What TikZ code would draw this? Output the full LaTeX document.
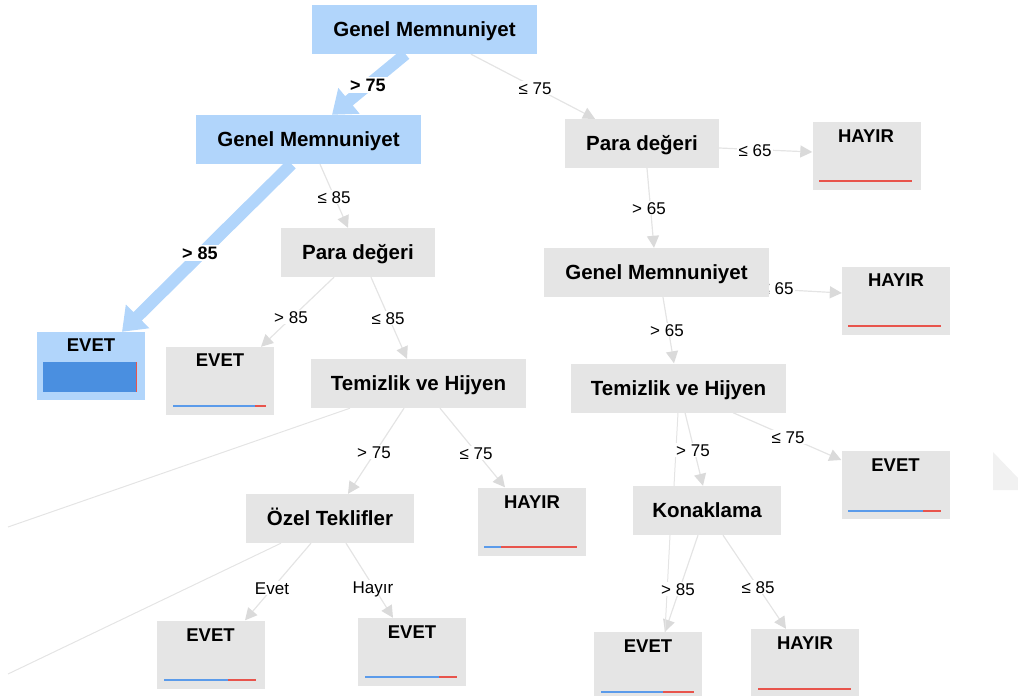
\documentclass[tikz,border=0pt]{standalone}
\usepackage{fontspec}
\setmainfont{Liberation Sans}
\usetikzlibrary{arrows.meta,calc,backgrounds}

\definecolor{boxgray}{HTML}{E5E5E5}
\definecolor{selblue}{HTML}{B1D5FB}
\definecolor{deepblue}{HTML}{4A8FE0}
\definecolor{barblue}{HTML}{5B9BEA}
\definecolor{barred}{HTML}{E8544C}
\definecolor{edgegray}{HTML}{E4E4E4}
\definecolor{tipgray}{HTML}{DADADA}
\definecolor{ghost}{HTML}{F1F1F1}

\begin{document}
\begin{tikzpicture}[x=1pt,y=-1pt,
  split/.style={rectangle, fill=boxgray, minimum width=#1, minimum height=49, inner sep=0pt,
    font=\bfseries\fontsize{20.5}{24}\selectfont, text height=14.7pt, text depth=0pt},
  split/.default=154,
  picked/.style={fill=selblue},
  leaf/.style={rectangle, fill=boxgray, minimum width=108, minimum height=68, inner sep=0pt},
  leaftitle/.style={inner sep=0pt, font=\bfseries\fontsize{18.5}{22}\selectfont,
    text height=13.2pt, text depth=0pt},
  bar/.style={line width=2.6pt},
  link/.style={draw=edgegray, line width=1.2pt, -{Triangle[length=12pt,width=12pt,color=tipgray]}},
  hotlink/.style={draw=selblue, line width=12pt, -{Triangle[length=22pt,width=32pt]}},
  faint/.style={draw=edgegray, line width=1pt},
  lbl/.style={fill=white, inner sep=1.2pt, font=\fontsize{17}{20}\selectfont,
    text height=12.2pt, text depth=0pt},
  hotlbl/.style={lbl, font=\bfseries\fontsize{18}{21}\selectfont, text height=12.9pt}
]
\path[use as bounding box] (0,0) rectangle (1018,696);

% soft shape at the right border
\fill[ghost] (993,452) -- (1018,478) -- (1018,490) -- (993,490) -- cycle;

% decision nodes
\node[split=225, picked] (root) at (424.5,29.5) {Genel Memnuniyet};
\node[split=225, picked] (gm2) at (308.5,139.5) {Genel Memnuniyet};
\node[split=154] (paraL) at (358,252.5) {Para değeri};
\node[split=215] (temL) at (418.5,383.5) {Temizlik ve Hijyen};
\node[split=168] (ozel) at (330,518.5) {Özel Teklifler};
\node[split=154] (paraR) at (642,143.5) {Para değeri};
\node[split=225] (gmR) at (656.5,272.5) {Genel Memnuniyet};
\node[split=215] (temR) at (678.5,388) {Temizlik ve Hijyen};
\node[split=148] (kon) at (707,510.5) {Konaklama};

% leaves: title and class distribution bar
\node[leaf, picked] (l1) at (91,366) {};
\node[leaftitle] (l1t) at (91,345) {EVET};
\fill[deepblue] (43,362) rectangle (137,392);
\draw[barred, line width=0.8pt] (136.6,362) -- (136.6,392);

\node[leaf] (l2) at (220,381) {};
\node[leaftitle] (l2t) at (220,360) {EVET};
\draw[bar, barblue] (173,406) -- (255,406);
\draw[bar, barred] (255,406) -- (266,406);

\node[leaf] (l3) at (532,521.5) {};
\node[leaftitle] (l3t) at (532,502) {HAYIR};
\draw[bar, barblue] (484,547) -- (501,547);
\draw[bar, barred] (501,547) -- (577,547);

\node[leaf] (l4) at (210.5,654.5) {};
\node[leaftitle] (l4t) at (210.5,635) {EVET};
\draw[bar, barblue] (164,680) -- (228,680);
\draw[bar, barred] (228,680) -- (256,680);

\node[leaf] (l5) at (412,652) {};
\node[leaftitle] (l5t) at (412,632) {EVET};
\draw[bar, barblue] (365,677) -- (439,677);
\draw[bar, barred] (439,677) -- (457,677);

\node[leaf] (r1) at (866.5,156) {};
\node[leaftitle] (r1t) at (866,136) {HAYIR};
\draw[bar, barred] (819,181) -- (912,181);

\node[leaf] (r2) at (896,300.5) {};
\node[leaftitle] (r2t) at (896,280) {HAYIR};
\draw[bar, barred] (848,326) -- (941,326);

\node[leaf] (r3) at (895.5,485) {};
\node[leaftitle] (r3t) at (895.5,465) {EVET};
\draw[bar, barblue] (848,511) -- (923,511);
\draw[bar, barred] (923,511) -- (941,511);

\node[leaf] (r4) at (648,666) {};
\node[leaftitle] (r4t) at (648,646) {EVET};
\draw[bar, barblue] (601,692) -- (663,692);
\draw[bar, barred] (663,692) -- (694,692);

\node[leaf] (r5) at (805,663) {};
\node[leaftitle] (r5t) at (805,643) {HAYIR};
\draw[bar, barred] (758,689) -- (851,689);

% free ends of the branches leaving the view
\coordinate (offA) at (8,527);
\coordinate (offB) at (8,674);

\begin{pgfonlayer}{background}
% highlighted path
\draw[hotlink] ($(root.south)+(-19,0)$) -- ($(gm2.north)+(23.5,0)$);
\draw[hotlink] ($(gm2.south)+(-17,0)$) -- ($(l1.north)+(31,0)$);
% ordinary branches
\draw[link] ($(root.south)+(46.5,0)$) -- ($(paraR.north)+(-47,0)$);
\draw[link] ($(gm2.south)+(11.5,0)$) -- ($(paraL.north)+(-10,0)$);
\draw[link] ($(paraL.south)+(-24,0)$) -- ($(l2.north)+(41,0)$);
\draw[link] ($(paraL.south)+(13,0)$) -- ($(temL.north)+(-11.5,0)$);
\draw[link] ($(temL.south)+(-14.5,0)$) -- ($(ozel.north)+(18,0)$);
\draw[link] ($(temL.south)+(21.5,0)$) -- ($(l3.north)+(-27,0)$);
\draw[faint] ($(temL.south)+(-68.5,0)$) -- (offA);
\draw[link] ($(ozel.south)+(-19,0)$) -- ($(l4.north)+(34.5,0)$);
\draw[link] ($(ozel.south)+(16,0)$) -- ($(l5.north)+(-19,0)$);
\draw[faint] ($(ozel.south)+(-49,0)$) -- (offB);
\draw[link] ($(paraR.east)+(0,4.5)$) -- ($(r1.west)+(0,-4)$);
\draw[link] ($(paraR.south)+(5,0)$) -- ($(gmR.north)+(-2.5,0)$);
\draw[link] ($(gmR.east)+(0,16.5)$) -- ($(r2.west)+(0,-7.5)$);
\draw[link] ($(gmR.south)+(6.5,0)$) -- ($(temR.north)+(-4.5,0)$);
\draw[link] ($(temR.south)+(54.5,0)$) -- ($(r3.west)+(0,-25)$);
\draw[link] ($(temR.south)+(6.5,0)$) -- ($(kon.north)+(-4,0)$);
\draw[faint] ($(temR.south)+(-0.5,0)$) -- ($(kon.north)+(-33,0)$);
\draw[link] ($(kon.south)+(-9,0)$) -- ($(r4.north)+(17,0)$);
\draw[faint] ($(kon.south)+(-37,0)$) -- ($(r4.north)+(17,0)$);
\draw[link] ($(kon.south)+(16,0)$) -- ($(r5.north)+(-19,0)$);
% branch conditions
\node[hotlbl] (c1) at (368,85) {> 75};
\node[hotlbl] (c2) at (200,253) {> 85};
\node[lbl] (c3) at (535,88) {≤ 75};
\node[lbl] (c4) at (334,197) {≤ 85};
\node[lbl] (c5) at (291,317) {> 85};
\node[lbl] (c6) at (388,318) {≤ 85};
\node[lbl] (c7) at (374,452) {> 75};
\node[lbl] (c8) at (476,453) {≤ 75};
\node[lbl] (c9) at (272,588) {Evet};
\node[lbl] (c10) at (373,587) {Hayır};
\node[lbl] (c11) at (755,150) {≤ 65};
\node[lbl] (c12) at (649,208) {> 65};
\node[lbl] (c13) at (777,288) {≤ 65};
\node[lbl] (c14) at (667,330) {> 65};
\node[lbl] (c15) at (788,437) {≤ 75};
\node[lbl] (c16) at (693,450) {> 75};
\node[lbl] (c17) at (678,589) {> 85};
\node[lbl] (c18) at (758,587) {≤ 85};
\end{pgfonlayer}
\end{tikzpicture}
\end{document}
